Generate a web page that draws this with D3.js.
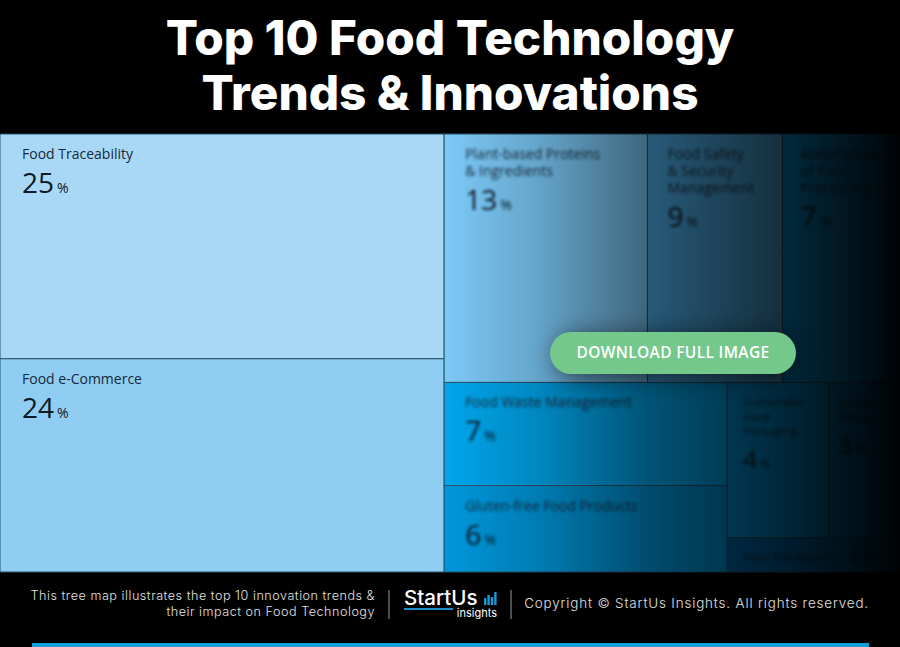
<!DOCTYPE html>
<html>
<head>
<meta charset="utf-8">
<script src="https://cdnjs.cloudflare.com/ajax/libs/d3/7.8.5/d3.min.js"></script>
<style>
  html, body { margin: 0; padding: 0; background: #000; overflow: hidden; }
  svg { display: block; }
</style>
</head>
<body>
<div id="chart"></div>
<script>
// Chart values
const names = ["Food Traceability", "Food e-Commerce", "Plant-based Proteins\n& Ingredients",
  "Food Safety\n& Security\nManagement", "Automation\nof Food\nProcessing", "Food Waste Management",
  "Gluten-free Food Products", "Sustainable\nFood\nPackaging", "Smart\nKitchens", "Meal Substitutes"];
const shares = [25, 24, 13, 9, 7, 7, 6, 4, 3, 2];
// cell areas as measured, the printed shares are rounded
const areas = [25.3, 24.0, 12.8, 8.5, 7.4, 7.4, 6.2, 4.0, 2.8, 1.5];
const fills = ["#a9d8f7", "#8fcdf3", "#7ccaf8", "#50b4f0", "#04a0e8", "#00a6ec", "#0098dc", "#0098e0", "#0084cc", "#0070b8"];

const titleLines = ["Top 10 Food Technology", "Trends & Innovations"];
const footerLines = ["This tree map illustrates the top 10 innovation trends &", "their impact on Food Technology"];
const copyright = "Copyright © StartUs Insights. All rights reserved.";
const logoBars = [7, 10, 8, 13];

const width = 900, height = 647;
const mapTop = 134, mapBottom = 572;

const svg = d3.select("#chart").append("svg")
    .attr("width", width)
    .attr("height", height);

const defs = svg.append("defs");
defs.append("filter").attr("id", "blur").append("feGaussianBlur").attr("stdDeviation", 1.5);
defs.append("filter").attr("id", "shadow")
    .attr("x", "-30%").attr("y", "-80%").attr("width", "160%").attr("height", "260%")
    .append("feGaussianBlur").attr("stdDeviation", 12);

// Dark fade over the right half of the map
const fade = defs.append("linearGradient").attr("id", "fade")
    .attr("gradientUnits", "userSpaceOnUse")
    .attr("x1", 444).attr("x2", 900).attr("y1", 0).attr("y2", 0);
[[0, 0], [0.2, 0.18], [0.45, 0.5], [0.74, 0.74], [0.9, 0.88], [1, 0.98]].forEach(s => {
  fade.append("stop").attr("offset", s[0]).attr("stop-color", "#000").attr("stop-opacity", s[1]);
});

// Title
svg.append("g").selectAll("text")
    .data(titleLines)
    .enter().append("text")
    .attr("x", width / 2)
    .attr("y", (d, i) => 55 + i * 55)
    .attr("text-anchor", "middle")
    .attr("fill", "#fff")
    .style("font-family", "Inter, sans-serif")
    .style("font-size", "47.7px")
    .style("font-weight", 800)
    .text(d => d);

// Treemap: nested by hand so the tiling follows the original arrangement
const cell = i => ({name: names[i], share: shares[i], area: areas[i], fill: fills[i], idx: i});
const tree = {children: [
  {children: [cell(0), cell(1)]},
  {children: [
    {children: [cell(2), cell(3), cell(4)]},
    {children: [
      {children: [cell(5), cell(6)]},
      {children: [
        {children: [cell(7), cell(8)]},
        cell(9)
      ]}
    ]}
  ]}
]};

const root = d3.hierarchy(tree).sum(d => d.area || 0);
d3.treemap()
    .size([width, mapBottom - mapTop])
    .tile((node, x0, y0, x1, y1) => {
      (node.depth % 2 === 0 ? d3.treemapDice : d3.treemapSlice)(node, x0, y0, x1, y1);
    })(root);

const map = svg.append("g").attr("transform", `translate(0,${mapTop})`);
const leaves = root.leaves();

map.selectAll(".cell")
    .data(leaves)
    .enter().append("rect")
    .attr("class", "cell")
    .attr("x", d => d.x0)
    .attr("y", d => d.y0)
    .attr("width", d => d.x1 - d.x0)
    .attr("height", d => d.y1 - d.y0)
    .attr("fill", d => d.data.fill)
    .attr("stroke", "#28566f")
    .attr("stroke-width", 1);

// Padding shrinks with the cell
const padFor = d3.scaleThreshold().domain([90, 110, 125, 200]).range([10, 16, 18, 20, 21]);

// Labels, the ones on the right half are blurred out
leaves.forEach(d => {
  const blurred = d.data.idx > 1;
  const w = d.x1 - d.x0, h = d.y1 - d.y0;
  const small = w < 110 || h < 40;     // the narrow cells use a smaller type
  const oneLiner = h < 40;             // number sits next to the name
  const g = map.append("g")
      .attr("transform", `translate(${d.x0 + (blurred ? (oneLiner ? 16 : padFor(w)) : 22)},${d.y0})`)
      .attr("filter", blurred ? "url(#blur)" : null)
      .attr("fill", "#16293b");
  const lines = d.data.name.split("\n");
  const lineH = small ? 14.5 : 17;
  g.selectAll(".name")
      .data(lines)
      .enter().append("text")
      .attr("y", (l, i) => (oneLiner ? 23 : small ? 24 : 25) + i * lineH)
      .style("font-family", "'Open Sans', sans-serif")
      .style("font-size", small ? "11.5px" : "14px")
      .text(l => l);
  const lastLine = (small ? 24 : 25) + (lines.length - 1) * lineH;
  const num = g.append("text")
      .attr("x", oneLiner ? 107 : 0)
      .attr("y", oneLiner ? 24 : lastLine + (small ? 33 : 34))
      .style("font-family", "'Open Sans', sans-serif")
      .style("font-size", oneLiner ? "14px" : small ? "24px" : "28px")
      .attr("fill", "#0e1a26");
  num.append("tspan").text(d.data.share);
  num.append("tspan")
      .attr("dx", 3)
      .style("font-size", small ? "12px" : "14px")
      .text("%");
});

map.append("rect")
    .attr("x", 444).attr("y", -1)
    .attr("width", 456).attr("height", mapBottom - mapTop + 2)
    .attr("fill", "url(#fade)");

// Download button
svg.append("rect")
    .attr("x", 556).attr("y", 336)
    .attr("width", 236).attr("height", 40)
    .attr("rx", 20)
    .attr("fill", "#000")
    .attr("opacity", 0.6)
    .attr("filter", "url(#shadow)");
svg.append("rect")
    .attr("x", 550).attr("y", 332)
    .attr("width", 246).attr("height", 42)
    .attr("rx", 21)
    .attr("fill", "#74c88c");
svg.append("text")
    .attr("x", 673).attr("y", 358)
    .attr("text-anchor", "middle")
    .attr("fill", "#fff")
    .style("font-family", "'Open Sans', sans-serif")
    .style("font-size", "15.5px")
    .style("font-weight", 600)
    .style("letter-spacing", "0.35px")
    .text("DOWNLOAD FULL IMAGE");

// Footer
svg.append("g").selectAll("text")
    .data(footerLines)
    .enter().append("text")
    .attr("x", 375)
    .attr("y", (d, i) => 600 + i * 16)
    .attr("text-anchor", "end")
    .attr("fill", "#e2e2e2")
    .style("font-family", "Inter, sans-serif")
    .style("font-size", "12.6px")
    .style("font-weight", 300)
    .style("letter-spacing", "0.52px")
    .text(d => d);

[389, 511].forEach(x => {
  svg.append("line")
      .attr("x1", x).attr("x2", x)
      .attr("y1", 590).attr("y2", 619)
      .attr("stroke", "#9a9a9a");
});

// Logo
svg.append("text")
    .attr("x", 404).attr("y", 605)
    .attr("fill", "#fff")
    .style("font-family", "Inter, sans-serif")
    .style("font-size", "20.5px")
    .style("font-weight", 500)
    .text("StartUs");
svg.append("rect")
    .attr("x", 404).attr("y", 608)
    .attr("width", 49).attr("height", 2)
    .attr("fill", "#1c8fc8");
svg.append("text")
    .attr("x", 497).attr("y", 617)
    .attr("text-anchor", "end")
    .attr("fill", "#fff")
    .style("font-family", "Inter, sans-serif")
    .style("font-size", "11px")
    .text("insights");
svg.append("g").selectAll("rect")
    .data(logoBars)
    .enter().append("rect")
    .attr("x", (d, i) => 484 + i * 3.4)
    .attr("y", d => 605 - d)
    .attr("width", 2.4)
    .attr("height", d => d)
    .attr("fill", "#1c9ad6");

svg.append("text")
    .attr("x", 869).attr("y", 608)
    .attr("text-anchor", "end")
    .attr("fill", "#e2e2e2")
    .style("font-family", "Inter, sans-serif")
    .style("font-size", "13.4px")
    .style("font-weight", 300)
    .style("letter-spacing", "0.85px")
    .text(copyright);

svg.append("rect")
    .attr("x", 32).attr("y", 643)
    .attr("width", 837).attr("height", 4)
    .attr("fill", "#0f9fdc");
</script>
</body>
</html>
